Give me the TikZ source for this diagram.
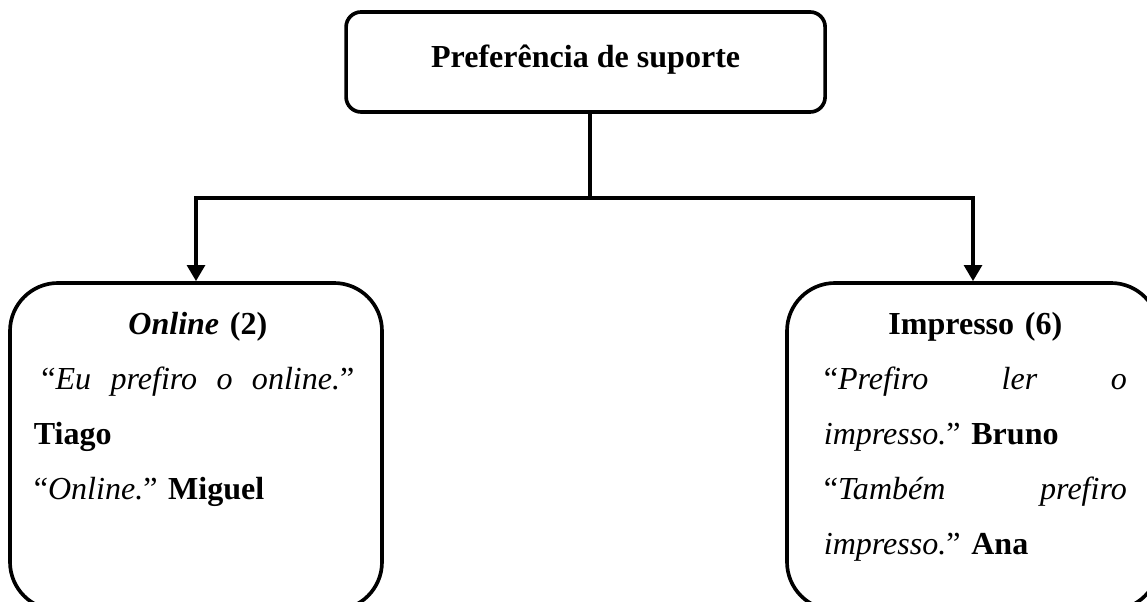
\documentclass[tikz,border=0pt]{standalone}
\usepackage{fontspec}
\setmainfont{Liberation Serif}
\frenchspacing
\usetikzlibrary{shapes,arrows.meta,positioning}

\begin{document}
\begin{tikzpicture}[>={Triangle[length=4mm,width=4.4mm]}, line width=2.6pt,
    font=\fontsize{22.8}{39.1}\selectfont,
    branch/.style={rectangle, draw, rounded corners=1.2cm, minimum width=9.3cm, minimum height=8.175cm},
    quote/.style={inner sep=0pt, align=left, anchor=base west}]
    \useasboundingbox (0,0) rectangle (28.675,15.05);
    \clip (0,0) rectangle (28.675,15.05);

    % Main nodes
    \node (pref) [rectangle, draw, rounded corners=3.75mm, minimum width=11.975cm, minimum height=2.5cm,
        text height=5.5mm, text depth=2.6mm] at (14.64,13.5) {\textbf{Preferência de suporte}};
    \node (online) [branch] at (4.9,3.8875) {};
    \node (impresso) [branch] at (24.325,3.8875) {};

    % Online text
    \node (onlinetxt) [quote, text width=8.2cm] at (0.8,6.675) {%
        \makebox[8.2cm]{\bfseries{\itshape Online} (2)}\\
        \makebox[8.2cm]{\makebox[7.825cm][s]{“\textit{Eu}\hfill\textit{prefiro}\hfill\textit{o}\hfill\textit{online.}”}}\\
        \textbf{Tiago}\\
        “\textit{Online.}” \textbf{Miguel}};

    % Impresso text
    \node (impressotxt) [quote, text width=7.575cm] at (20.55,6.675) {%
        \makebox[7.575cm]{\textbf{Impresso (6)}}\\
        \makebox[7.575cm][s]{“\textit{Prefiro}\hfill\textit{ler}\hfill\textit{o}}\\
        \textit{impresso.}” \textbf{Bruno}\\
        \makebox[7.575cm][s]{“\textit{Também}\hfill\textit{prefiro}}\\
        \textit{impresso.}” \textbf{Ana}};

    % Connections
    \coordinate (split) at (14.75,10.1);
    \draw (pref.south -| split) -- (split);
    \draw[->] (split) -| (online.north);
    \draw[->] (split) -| (impresso.north);
\end{tikzpicture}
\end{document}
